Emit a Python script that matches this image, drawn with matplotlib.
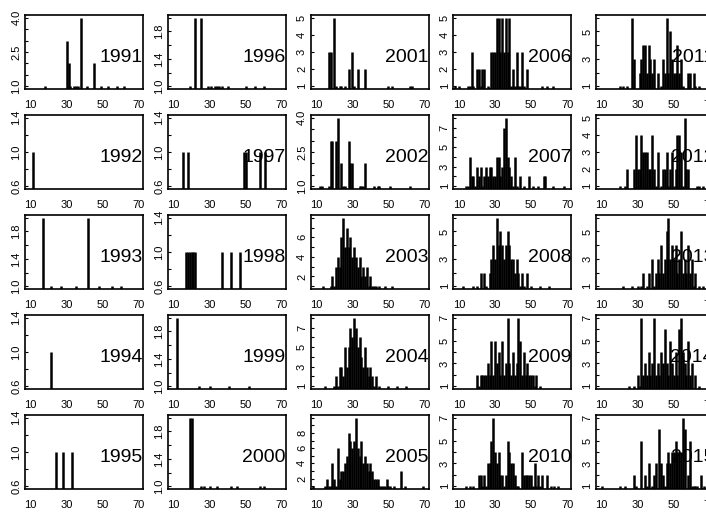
import matplotlib
matplotlib.use("Agg")
import matplotlib.pyplot as plt

plt.rcParams['font.family'] = ['Liberation Sans', 'DejaVu Sans']

years = list(range(1991, 2016))

# counts by age, one dict per year
c1991 = {18: 1, 30: 3, 31: 2, 32: 1, 34: 1, 35: 1, 36: 1, 38: 4, 41: 1, 45: 2, 49: 1, 53: 1, 58: 1, 62: 1}
c1992 = {11: 1}
c1993 = {17: 2, 21: 1, 27: 1, 35: 1, 42: 2, 48: 1, 55: 1, 60: 1}
c1994 = {21: 1}
c1995 = {24: 1, 28: 1, 33: 1}
c1996 = {19: 1, 22: 2, 25: 2, 29: 1, 31: 1, 33: 1, 34: 1, 35: 1, 37: 1, 40: 1, 50: 1, 55: 1, 60: 1}
c1997 = {15: 1, 18: 1, 49: 1, 50: 1, 58: 1, 61: 1}
c1998 = {17: 1, 18: 1, 19: 1, 20: 1, 21: 1, 22: 1, 37: 1, 42: 1, 47: 1}
c1999 = {12: 2, 24: 1, 30: 1, 41: 1, 52: 1}
c2000 = {19: 2, 20: 2, 25: 1, 27: 1, 30: 1, 34: 1, 42: 1, 45: 1, 58: 1, 60: 1}
c2001 = {17: 3, 18: 3, 20: 5, 21: 1, 23: 1, 24: 1, 26: 1, 28: 2, 30: 3, 31: 1, 33: 2, 37: 2,
         50: 1, 52: 1, 62: 1, 63: 1}
c2002 = {12: 1, 13: 1, 17: 1, 18: 3, 19: 3, 21: 3, 22: 4, 24: 2, 25: 1, 26: 1, 28: 3, 29: 2, 30: 2,
         34: 1, 35: 1, 36: 1, 37: 2, 42: 1, 44: 1, 45: 1, 51: 1, 62: 1}
c2003 = {14: 1, 18: 1, 19: 2, 20: 1, 21: 3, 22: 4, 23: 3, 24: 6, 25: 8, 26: 5, 27: 7, 28: 5, 29: 6,
         30: 4, 31: 5, 32: 4, 33: 3, 34: 4, 35: 2, 36: 3, 37: 2, 38: 3, 39: 1, 40: 2, 41: 1, 42: 1,
         43: 1, 45: 1, 48: 1, 52: 1}
c2004 = {15: 1, 20: 1, 21: 2, 22: 1, 23: 3, 24: 3, 25: 2, 26: 5, 27: 3, 28: 5, 29: 7, 30: 6, 31: 8,
         32: 7, 33: 5, 34: 6, 35: 4, 36: 3, 37: 5, 38: 3, 39: 2, 40: 3, 41: 2, 42: 1, 43: 2, 45: 1,
         50: 1, 55: 1, 60: 1}
c2005 = {8: 1, 15: 1, 16: 2, 17: 1, 18: 1, 19: 4, 20: 2, 21: 1, 22: 6, 23: 2, 24: 3, 25: 3, 26: 4,
         27: 5, 28: 8, 29: 7, 30: 6, 31: 7, 32: 10, 33: 6, 34: 5, 35: 7, 36: 4, 37: 5, 38: 4, 39: 3,
         40: 4, 41: 3, 42: 2, 43: 2, 44: 2, 45: 1, 46: 1, 47: 1, 48: 1, 49: 2, 50: 1, 51: 1, 53: 1,
         57: 3, 59: 1, 69: 1}
c2006 = {8: 1, 10: 1, 15: 1, 16: 1, 17: 3, 18: 1, 20: 2, 21: 2, 22: 1, 23: 2, 24: 2, 26: 1, 28: 3,
         29: 3, 30: 3, 31: 5, 32: 5, 33: 3, 34: 5, 35: 3, 36: 5, 37: 3, 38: 5, 39: 1, 40: 2, 41: 1,
         42: 3, 43: 1, 44: 1, 45: 3, 46: 1, 48: 2, 56: 1, 59: 1, 62: 1}
c2007 = {14: 1, 15: 1, 16: 4, 17: 2, 18: 2, 19: 1, 20: 3, 21: 2, 22: 3, 23: 1, 24: 2, 25: 3, 26: 2,
         27: 3, 28: 3, 29: 2, 30: 2, 31: 4, 32: 4, 33: 2, 34: 3, 35: 7, 36: 8, 37: 4, 38: 3, 39: 2,
         40: 1, 41: 4, 42: 1, 44: 2, 46: 1, 49: 2, 51: 1, 54: 1, 57: 2, 58: 2, 62: 1, 68: 1}
c2008 = {12: 1, 18: 1, 20: 1, 22: 2, 24: 2, 25: 1, 27: 2, 28: 3, 29: 4, 30: 3, 31: 6, 32: 4, 33: 5,
         34: 4, 35: 3, 36: 4, 37: 5, 38: 4, 39: 3, 40: 3, 41: 2, 42: 3, 43: 2, 44: 1, 45: 2, 46: 1,
         48: 2, 50: 1, 55: 1, 60: 1}
c2009 = {20: 2, 21: 1, 22: 2, 23: 2, 24: 2, 25: 2, 26: 3, 27: 2, 28: 5, 29: 2, 30: 5, 31: 3, 32: 4,
         33: 2, 34: 5, 35: 2, 36: 3, 37: 7, 38: 3, 39: 2, 40: 4, 41: 2, 42: 3, 43: 7, 44: 5, 45: 2,
         46: 4, 47: 2, 48: 3, 49: 2, 50: 2, 51: 2, 52: 1, 53: 2, 55: 1}
c2010 = {14: 1, 16: 1, 18: 1, 21: 2, 22: 2, 23: 1, 24: 2, 25: 1, 26: 3, 27: 3, 28: 5, 29: 7, 30: 4,
         31: 3, 32: 4, 33: 2, 34: 2, 35: 1, 36: 2, 37: 5, 38: 4, 39: 3, 40: 3, 41: 2, 42: 1, 43: 1,
         45: 4, 46: 2, 47: 2, 48: 2, 49: 2, 50: 2, 51: 1, 52: 3, 53: 1, 54: 2, 55: 1, 56: 2, 59: 2,
         61: 1, 63: 1, 65: 1}
c2011 = {20: 1, 22: 1, 24: 1, 27: 6, 28: 3, 31: 2, 32: 3, 33: 4, 34: 4, 35: 2, 36: 4, 37: 3, 38: 2,
         39: 3, 41: 2, 43: 1, 44: 3, 45: 2, 46: 6, 47: 2, 48: 5, 49: 3, 50: 2, 51: 2, 52: 4, 53: 2,
         54: 3, 55: 1, 58: 2, 59: 2, 61: 2, 62: 1, 64: 1}
c2012 = {20: 1, 23: 1, 24: 2, 28: 2, 29: 4, 30: 2, 31: 2, 32: 4, 33: 3, 34: 3, 35: 3, 36: 2, 37: 2,
         38: 4, 39: 2, 40: 1, 41: 3, 43: 1, 44: 2, 45: 2, 46: 3, 47: 1, 48: 2, 49: 3, 50: 1, 51: 2,
         52: 4, 53: 4, 54: 3, 55: 1, 56: 5, 57: 2, 58: 2, 63: 1, 64: 1, 66: 1}
c2013 = {22: 1, 27: 1, 30: 1, 32: 1, 33: 2, 35: 1, 36: 2, 38: 3, 39: 1, 40: 2, 41: 3, 42: 2, 43: 4,
         44: 2, 45: 3, 46: 5, 47: 6, 48: 3, 49: 4, 50: 3, 51: 4, 52: 2, 53: 3, 54: 5, 55: 2, 56: 3,
         57: 2, 58: 4, 59: 2, 60: 3, 61: 1, 62: 2, 64: 1, 66: 1}
c2014 = {25: 1, 28: 1, 30: 2, 31: 1, 32: 7, 33: 2, 34: 3, 35: 2, 36: 4, 37: 2, 38: 3, 39: 7, 40: 2,
         41: 3, 42: 2, 43: 4, 44: 3, 45: 6, 46: 3, 47: 2, 48: 5, 49: 3, 50: 2, 51: 4, 52: 2, 53: 6,
         54: 7, 55: 4, 56: 3, 57: 2, 58: 5, 59: 2, 60: 3, 62: 2, 64: 1}
c2015 = {10: 1, 20: 1, 23: 1, 28: 2, 29: 1, 32: 5, 34: 2, 35: 1, 36: 3, 38: 1, 39: 2, 40: 3, 42: 6,
         43: 3, 44: 2, 45: 1, 46: 3, 47: 4, 48: 3, 49: 4, 50: 4, 51: 5, 52: 4, 53: 4, 54: 4, 55: 7,
         56: 6, 58: 2, 59: 5, 60: 1, 61: 1, 62: 1, 63: 1, 65: 2, 67: 1}

counts = [c1991, c1992, c1993, c1994, c1995, c1996, c1997, c1998, c1999, c2000,
          c2001, c2002, c2003, c2004, c2005, c2006, c2007, c2008, c2009, c2010,
          c2011, c2012, c2013, c2014, c2015]

# spacing of the y ticks, and which of them carry a label
ytick_step = [0.5, 0.2, 0.2, 0.2, 0.2, 0.2, 0.2, 0.2, 0.2, 0.2,
              1, 0.5, 1, 1, 1, 1, 1, 1, 1, 1,
              1, 1, 1, 1, 1]
ytick_labels = [["1.0", "2.5", "4.0"], ["0.6", "1.0", "1.4"], ["1.0", "1.4", "1.8"],
                ["0.6", "1.0", "1.4"], ["0.6", "1.0", "1.4"],
                ["1.0", "1.4", "1.8"], ["0.6", "1.0", "1.4"], ["0.6", "1.0", "1.4"],
                ["1.0", "1.4", "1.8"], ["1.0", "1.4", "1.8"],
                ["1", "2", "3", "4", "5"], ["1.0", "2.5", "4.0"], ["2", "4", "6"],
                ["1", "3", "5", "7"], ["2", "4", "6", "8"],
                ["1", "2", "3", "4", "5"], ["1", "3", "5", "7"], ["1", "3", "5"],
                ["1", "3", "5", "7"], ["1", "3", "5", "7"],
                ["1", "3", "5"], ["1", "2", "3", "4", "5"], ["1", "3", "5"],
                ["1", "3", "5", "7"], ["1", "3", "5", "7"]]

xticks = [10, 20, 30, 40, 50, 60, 70]
xtick_labels = ["10", "", "30", "", "50", "", "70"]

W, H = 706, 513
fig = plt.figure(figsize=(W / 100, H / 100), dpi=100)

col_left = [25, 167.75, 310.5, 453.25, 596]
row_top = [15, 115, 215, 315, 415]
box_w, box_h = 118, 74

for i, year in enumerate(years):
    col = i // 5
    row = i % 5
    l = col_left[col]
    t = row_top[row]
    ax = fig.add_axes([l / W, 1 - (t + box_h) / H, box_w / W, box_h / H])

    d = counts[i]
    ages = list(d.keys())
    vals = list(d.values())
    ax.vlines(ages, 0, vals, colors="black", linewidth=1.8)

    # R style limits: data range plus 4 %
    lo, hi = min(vals), max(vals)
    if lo == hi:
        lo, hi = lo - 0.4, hi + 0.4
    pad = (hi - lo) * 0.04
    ax.set_ylim(lo - pad, hi + pad)
    ax.set_xlim(6.8, 72.3)

    step = ytick_step[i]
    n = int(round((hi - lo) / step))
    yt = [round(lo + k * step, 2) for k in range(n + 1)]
    labs = ytick_labels[i]
    decimals = "." in labs[0]
    ylabs = []
    for v in yt:
        s = ("%.1f" % v) if decimals else ("%g" % v)
        ylabs.append(s if s in labs else "")
    ax.set_yticks(yt)
    ax.set_yticklabels(ylabs, rotation=90, va="center", fontsize=8)
    ax.set_xticks(xticks)
    ax.set_xticklabels(xtick_labels, fontsize=8)
    ax.tick_params(axis="y", direction="in", length=2, pad=2.5, width=0.8)
    ax.tick_params(axis="x", direction="in", length=0, pad=8)

    for s in ax.spines.values():
        s.set_linewidth(1.2)

    ax.text(1.0, 0.42, str(year), transform=ax.transAxes, ha="right", va="center",
            fontsize=14)

fig.savefig("out.png", dpi=100)
